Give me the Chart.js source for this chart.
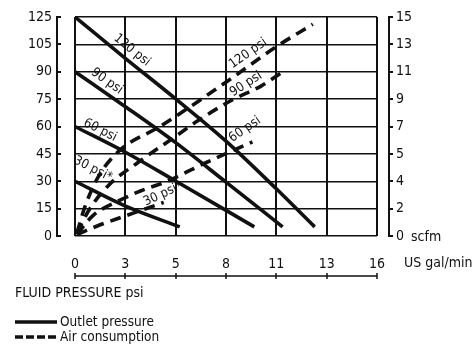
<!DOCTYPE html>
<html>
<head>
<meta charset="utf-8">
<script src="https://cdn.jsdelivr.net/npm/chart.js@4/dist/chart.umd.min.js"></script>
<style>
  html, body { margin: 0; padding: 0; background: #fff; }
  #wrap { position: relative; width: 473px; height: 345px; }
</style>
</head>
<body>
<div id="wrap"><canvas id="c" width="473" height="345"></canvas></div>
<script>
// Axis tick labels
const flowTickLabels = ['0', '3', '5', '8', '11', '13', '16'];
const pressureTickLabels = ['0', '15', '30', '45', '60', '75', '90', '105', '125'];
const airTickLabels = ['0', '2', '4', '5', '7', '9', '11', '13', '15'];

// Axis ranges (US gal/min, psi, scfm)
const flowMax = 16;
const pressureMax = 120;
const airMax = 15;

// Outlet pressure (psi) vs flow (US gal/min)
const outlet120 = [[0, 120], [2.65, 97.5], [5.35, 75], [8.0, 52], [10.65, 26], [12.7, 5]];
const outlet90 = [[0, 90], [2.65, 71], [5.35, 51], [8.0, 29.5], [11.0, 5]];
const outlet60 = [[0, 60], [2.74, 45.5], [5.35, 30], [9.5, 5]];
const outlet30 = [[0, 30], [2.65, 16.5], [5.55, 5]];

// Air consumption (scfm) vs flow (US gal/min)
const air120 = [[0.1, 0.2], [0.55, 2.1], [1.3, 4.2], [2.4, 5.9], [4.5, 7.5], [6.5, 9.2], [8.4, 10.9], [10.7, 13.0], [12.6, 14.5]];
const air90 = [[0.1, 0.2], [0.75, 1.8], [1.8, 3.5], [3.3, 5.0], [5.3, 6.8], [6.4, 7.8], [8.3, 9.3], [9.9, 10.3], [10.95, 11.2]];
const air60 = [[0.1, 0.1], [0.95, 1.4], [2.3, 2.4], [3.5, 3.1], [4.8, 3.7], [6.9, 5.0], [9.4, 6.45]];
const air30 = [[0.1, 0.1], [1.3, 0.75], [2.5, 1.3], [3.6, 1.8], [4.7, 2.3]];

// Curve captions: text, axis, anchor (gal/min, axis value), angle in degrees
const curveCaptions = [
  { text: '120 psi', axis: 'y', at: [3.02, 101.8], angle: 39 },
  { text: '90 psi', axis: 'y', at: [1.69, 84.8], angle: 35 },
  { text: '60 psi', axis: 'y', at: [1.33, 58], angle: 27 },
  { text: '30 psi*', axis: 'y', at: [0.95, 36.7], angle: 27 },
  { text: '120 psi', axis: 'y2', at: [9.17, 12.5], angle: -35 },
  { text: '90 psi', axis: 'y2', at: [9.06, 10.4], angle: -33 },
  { text: '60 psi', axis: 'y2', at: [9.0, 7.3], angle: -35 },
  { text: '30 psi*', axis: 'y2', at: [4.66, 2.87], angle: -25 }
];

const FONT = "'Liberation Sans Narrow', 'DejaVu Sans Condensed', 'Arial Narrow', 'Liberation Sans', sans-serif";
const INK = '#111';

const toPoints = arr => arr.map(([x, y]) => ({ x, y }));

function solid(data) {
  return { data: toPoints(data), yAxisID: 'y', borderColor: INK, borderWidth: 3.6,
           pointRadius: 0, cubicInterpolationMode: 'monotone', borderCapStyle: 'butt', fill: false };
}
function dashed(data) {
  return { data: toPoints(data), yAxisID: 'y2', borderColor: INK, borderWidth: 3.6,
           borderDash: [11, 7], pointRadius: 0, cubicInterpolationMode: 'monotone',
           borderCapStyle: 'butt', fill: false };
}

function evenTicks(labels, max) {
  return scale => {
    scale.ticks = labels.map((_, i) => ({ value: i * max / (labels.length - 1) }));
  };
}

function fixSize(dim, size) {
  return scale => {
    scale[dim] = size;
    scale.paddingTop = 0; scale.paddingBottom = 0;
    scale.paddingLeft = 0; scale.paddingRight = 0;
  };
}

const decor = {
  id: 'decor',
  afterDatasetsDraw(chart) {
    const { ctx, scales } = chart;
    ctx.save();
    ctx.fillStyle = INK;
    ctx.font = '13px ' + FONT;
    ctx.textAlign = 'center';
    ctx.textBaseline = 'middle';
    curveCaptions.forEach(c => {
      const px = scales.x.getPixelForValue(c.at[0]);
      const py = scales[c.axis].getPixelForValue(c.at[1]);
      ctx.save();
      ctx.translate(px, py);
      ctx.rotate(c.angle * Math.PI / 180);
      ctx.fillText(c.text, 0, 0);
      ctx.restore();
    });
    ctx.restore();
  },
  afterDraw(chart) {
    const { ctx, chartArea: a, scales } = chart;
    ctx.save();
    ctx.strokeStyle = INK;
    ctx.fillStyle = INK;

    // left bracket axis
    const lx = a.left - 18;
    ctx.lineWidth = 2;
    ctx.beginPath();
    ctx.moveTo(lx, a.top); ctx.lineTo(lx, a.bottom);
    scales.y.ticks.forEach(t => {
      const py = Math.round(scales.y.getPixelForValue(t.value));
      ctx.moveTo(lx - 1, py); ctx.lineTo(lx + 4, py);
    });
    ctx.stroke();

    // right bracket axis
    const rx = a.right + 12;
    ctx.beginPath();
    ctx.moveTo(rx, a.top); ctx.lineTo(rx, a.bottom);
    scales.y2.ticks.forEach(t => {
      const py = Math.round(scales.y2.getPixelForValue(t.value));
      ctx.moveTo(rx - 1, py); ctx.lineTo(rx + 4, py);
    });
    ctx.stroke();

    // separate flow axis line below the labels
    const by = a.bottom + 40;
    ctx.lineWidth = 1.5;
    ctx.beginPath();
    ctx.moveTo(a.left, by); ctx.lineTo(a.right, by);
    scales.x.ticks.forEach(t => {
      const px = Math.round(scales.x.getPixelForValue(t.value));
      ctx.moveTo(px, by - 3); ctx.lineTo(px, by + 3);
    });
    ctx.stroke();

    // unit texts
    ctx.font = '14px ' + FONT;
    ctx.textAlign = 'left';
    ctx.textBaseline = 'middle';
    ctx.fillText('scfm', 411, scales.y2.getPixelForValue(0) + 1);
    ctx.fillText('US gal/min', 404, 263);
    ctx.fillText('FLUID PRESSURE psi', 15, 293);

    // legend
    ctx.lineWidth = 3.6;
    ctx.lineCap = 'butt';
    ctx.beginPath();
    ctx.moveTo(15, 322); ctx.lineTo(57, 322);
    ctx.stroke();
    ctx.setLineDash([8, 3]);
    ctx.beginPath();
    ctx.moveTo(15, 337); ctx.lineTo(57, 337);
    ctx.stroke();
    ctx.setLineDash([]);
    ctx.font = '13.5px ' + FONT;
    ctx.fillText('Outlet pressure', 60, 322);
    ctx.fillText('Air consumption', 60, 337);
    ctx.restore();
  }
};

new Chart(document.getElementById('c'), {
  type: 'line',
  data: {
    datasets: [
      solid(outlet120), solid(outlet90), solid(outlet60), solid(outlet30),
      dashed(air120), dashed(air90), dashed(air60), dashed(air30)
    ]
  },
  options: {
    responsive: false,
    animation: false,
    devicePixelRatio: 1,
    layout: { padding: { top: 17, left: 0, right: 0, bottom: 0 } },
    plugins: { legend: { display: false }, tooltip: { enabled: false } },
    scales: {
      x: {
        type: 'linear', min: 0, max: flowMax,
        afterBuildTicks: evenTicks(flowTickLabels, flowMax),
        afterFit: fixSize('height', 109),
        ticks: { callback: (v, i) => flowTickLabels[i], padding: 20, autoSkip: false, maxRotation: 0,
                 color: INK, font: { family: FONT, size: 14 } },
        grid: { color: INK, lineWidth: 2, drawTicks: false },
        border: { display: false }
      },
      y: {
        type: 'linear', position: 'left', min: 0, max: pressureMax,
        afterBuildTicks: evenTicks(pressureTickLabels, pressureMax),
        afterFit: fixSize('width', 75),
        ticks: { callback: (v, i) => pressureTickLabels[i], padding: 23, autoSkip: false,
                 color: INK, font: { family: FONT, size: 14 } },
        grid: { color: INK, lineWidth: 1.5, drawTicks: false },
        border: { display: false }
      },
      y2: {
        type: 'linear', position: 'right', min: 0, max: airMax,
        afterBuildTicks: evenTicks(airTickLabels, airMax),
        afterFit: fixSize('width', 96),
        ticks: { callback: (v, i) => airTickLabels[i], padding: 19, autoSkip: false,
                 color: INK, font: { family: FONT, size: 14 } },
        grid: { display: false, drawTicks: false },
        border: { display: false }
      }
    }
  },
  plugins: [decor]
});
</script>
</body>
</html>
